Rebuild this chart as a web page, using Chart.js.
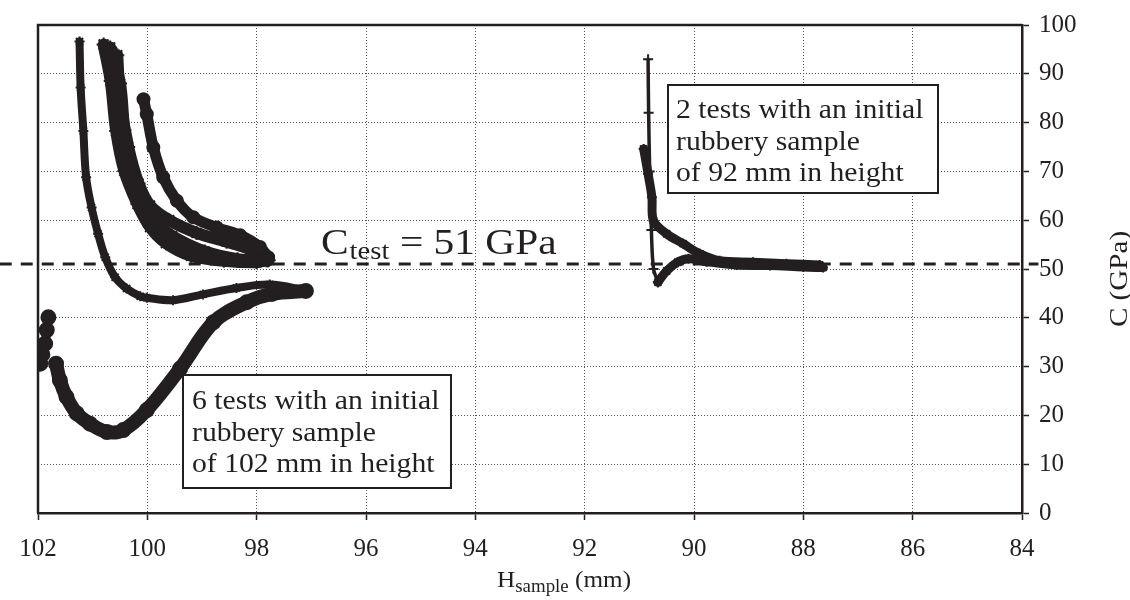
<!DOCTYPE html>
<html lang="en">
<head>
<meta charset="UTF-8">
<title>C vs H_sample</title>
<script src="https://cdn.jsdelivr.net/npm/chart.js"></script>
<style>
  body { margin: 0; background: #fff; }
  #wrap { width: 1130px; height: 600px; }
</style>
</head>
<body>
<div id="wrap"><canvas id="chart"></canvas></div>
<script>
// values: H in mm, C in GPa
const xTicks = [102, 100, 98, 96, 94, 92, 90, 88, 86, 84];
const yTicks = [0, 10, 20, 30, 40, 50, 60, 70, 80, 90, 100];
const cTest = 51;

// 102 mm samples
const leftDescH = [101.24, 101.22, 101.17, 101.12, 101.02, 100.90, 100.77, 100.59, 100.38, 100.13, 100.01, 99.53, 98.98, 98.37, 97.76, 97.08];
const leftDescC = [96.6, 87.2, 78.3, 68.8, 62.6, 57.2, 52.4, 48.3, 46.0, 44.4, 44.1, 43.6, 44.8, 46.1, 46.8, 45.6];
const lowerArmH = [97.10, 97.72, 98.18, 98.79, 99.40, 100.01, 100.44, 100.74, 101.05, 101.29, 101.48, 101.60, 101.67];
const lowerArmC = [45.5, 44.9, 43.2, 39.1, 29.6, 21.1, 17.0, 16.6, 18.3, 20.4, 23.8, 27.2, 30.6];
const startBlobH = [101.96, 101.92, 101.87, 101.84, 101.81];
const startBlobC = [30.6, 32.5, 34.7, 37.5, 40.1];
const bandAH = [100.80, 100.67, 100.57, 100.42, 100.18, 99.95, 99.66, 99.20, 98.60, 98.00, 97.82];
const bandAC = [96.0, 88.5, 78.3, 70.1, 63.3, 58.6, 55.3, 52.7, 51.7, 51.4, 51.8];
const bandBH = [100.68, 100.50, 100.42, 100.28, 100.07, 99.84, 99.55, 98.95, 98.35, 97.95, 97.80];
const bandBC = [95.4, 88.0, 78.5, 70.5, 64.0, 59.7, 56.8, 53.6, 52.0, 51.7, 51.8];
const bandCH = [100.55, 100.50, 100.35, 100.16, 99.95, 99.60, 99.10, 98.55, 98.10, 97.85, 97.78];
const bandCC = [93.8, 85.0, 75.0, 67.5, 63.0, 60.0, 57.4, 55.6, 54.0, 52.5, 51.8];
const sideH = [100.07, 100.01, 99.89, 99.71, 99.46, 99.16, 98.73, 98.30, 97.94, 97.79];
const sideC = [84.8, 81.7, 74.9, 68.8, 64.0, 60.6, 58.5, 56.9, 54.5, 52.4];

// 92 mm samples
const spikeH = [90.84, 90.83, 90.81, 90.78, 90.74, 90.66];
const spikeC = [93.0, 82.0, 70.0, 58.0, 50.0, 47.3];
const spikeLowH = [90.66, 90.50, 90.30, 90.10, 89.77, 89.22, 88.61, 88.00, 87.64];
const spikeLowC = [47.3, 49.6, 51.4, 52.1, 51.5, 50.8, 50.7, 50.4, 50.3];
const curve2H = [90.92, 90.84, 90.77, 90.74, 90.50, 90.20, 89.89, 89.53, 88.92, 88.31, 87.70];
const curve2C = [74.6, 69.5, 64.7, 59.9, 57.2, 55.2, 53.1, 51.7, 51.4, 51.1, 50.8];

const ink = '#231f20';
const serif = '"Liberation Serif", "DejaVu Serif", serif';

function pts(xs, ys) {
    return xs.map((x, i) => ({ x: x, y: ys[i] }));
}

function curve(xs, ys, width, style, radius) {
    return {
        data: pts(xs, ys),
        borderColor: ink,
        backgroundColor: ink,
        borderWidth: width,
        borderCapStyle: 'round',
        borderJoinStyle: 'round',
        tension: 0.35,
        pointStyle: style,
        pointRadius: radius,
        pointBorderWidth: 2,
        pointBorderColor: ink,
        pointBackgroundColor: ink
    };
}

const datasets = [
    curve(leftDescH, leftDescC, 8, 'star', 5),
    curve(lowerArmH, lowerArmC, 14, 'circle', 7),
    curve(startBlobH, startBlobC, 9, 'circle', 7),
    curve(bandAH, bandAC, 12, 'star', 7),
    curve(bandBH, bandBC, 12, 'star', 7),
    curve(bandCH, bandCC, 12, 'star', 7),
    curve(sideH, sideC, 11, 'circle', 6),
    curve(spikeH, spikeC, 3.5, 'cross', 5),
    curve(spikeLowH, spikeLowC, 9, 'star', 5),
    curve(curve2H, curve2C, 9, 'star', 5),
    {
        // C_test reference line, runs past both frame edges
        data: [{ x: 102.7, y: cTest }, { x: 83.7, y: cTest }],
        borderColor: ink,
        borderWidth: 3,
        borderDash: [12, 9],
        pointRadius: 0,
        clip: false
    }
];

// frame, labels and text boxes
const decor = {
    id: 'decor',
    afterDraw(chart) {
        const { ctx, chartArea: a } = chart;
        ctx.save();
        ctx.strokeStyle = ink;
        ctx.fillStyle = ink;
        ctx.lineWidth = 2.5;
        ctx.beginPath();
        ctx.moveTo(a.left, a.bottom);
        ctx.lineTo(a.left, a.top);
        ctx.lineTo(a.right, a.top);
        ctx.stroke();

        // text a bit wider than Times, closer to the original serif
        function wide(t, x, y, sx) {
            ctx.save();
            ctx.translate(x, y);
            ctx.scale(sx, 1);
            ctx.fillText(t, 0, 0);
            const w = ctx.measureText(t).width * sx;
            ctx.restore();
            return w;
        }

        function box(x, y, w, h, lines, tx, ty) {
            ctx.fillStyle = '#fff';
            ctx.fillRect(x, y, w, h);
            ctx.lineWidth = 2;
            ctx.strokeStyle = ink;
            ctx.strokeRect(x, y, w, h);
            ctx.fillStyle = ink;
            ctx.font = '27px ' + serif;
            ctx.textBaseline = 'alphabetic';
            lines.forEach((t, i) => wide(t, tx, ty + i * 31.5, 1.1));
        }
        box(668, 85, 270, 108, ['2 tests with an initial', 'rubbery sample', 'of 92 mm in height'], 676, 118);
        box(183, 375, 268, 113, ['6 tests with an initial', 'rubbery sample', 'of 102 mm in height'], 192, 409);

        // C_test label
        ctx.textAlign = 'left';
        ctx.font = '36px ' + serif;
        let x = 321 + wide('C', 321, 254, 1.15);
        ctx.font = '25px ' + serif;
        x += 1 + wide('test', x + 1, 259, 1.15);
        ctx.font = '36px ' + serif;
        wide(' = 51 GPa', x, 254, 1.15);

        // x title
        ctx.font = '24px ' + serif;
        x = 497 + wide('H', 497, 587, 1.05);
        ctx.font = '18px ' + serif;
        x += wide('sample', x, 592, 1.05);
        ctx.font = '24px ' + serif;
        wide(' (mm)', x, 587, 1.05);

        // y title, reads bottom to top
        ctx.translate(1127, 279);
        ctx.rotate(-Math.PI / 2);
        ctx.font = '26px ' + serif;
        const tw = ctx.measureText('C (GPa)').width * 1.12;
        wide('C (GPa)', -tw / 2, 0, 1.12);
        ctx.restore();
    }
};

new Chart(document.getElementById('chart'), {
    type: 'line',
    data: { datasets: datasets },
    plugins: [decor],
    options: {
        responsive: true,
        maintainAspectRatio: false,
        animation: false,
        layout: { padding: { left: 38, top: 24, right: 0, bottom: 0 } },
        plugins: { legend: { display: false }, tooltip: { enabled: false } },
        scales: {
            x: {
                type: 'linear',
                reverse: true,
                min: 84,
                max: 102,
                afterBuildTicks: s => { s.ticks = xTicks.map(v => ({ value: v })); },
                afterFit: s => { s.height = 87; },
                grid: { color: '#555', lineWidth: 1, tickColor: ink, tickLength: 7, tickWidth: 1.5 },
                border: { color: ink, width: 2.5, dash: [1, 2] },
                ticks: { color: ink, font: { family: serif, size: 25 }, padding: 14, maxRotation: 0 }
            },
            y: {
                position: 'right',
                min: 0,
                max: 100,
                afterBuildTicks: s => { s.ticks = yTicks.map(v => ({ value: v })); },
                afterFit: s => { s.width = 108; },
                grid: { color: '#555', lineWidth: 1, tickColor: ink, tickLength: 7, tickWidth: 1.5 },
                border: { color: ink, width: 2.5, dash: [1, 2] },
                ticks: { color: ink, font: { family: serif, size: 25 }, padding: 10 }
            }
        }
    }
});
</script>
</body>
</html>
